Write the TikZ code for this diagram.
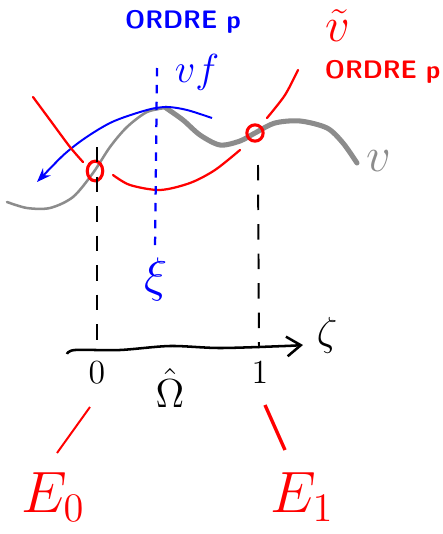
\documentclass[tikz,border=0pt]{standalone}
\usetikzlibrary{arrows.meta,shapes.geometric}
\definecolor{rouge}{RGB}{255,0,0}
\definecolor{bleu}{RGB}{0,0,255}
\definecolor{gris}{RGB}{140,140,140}

\begin{document}
\begin{tikzpicture}[
    x=0.0125cm, y=-0.0125cm,
    lbl/.style={inner sep=0pt},
    ordre/.style={inner sep=0pt, font=\small\sffamily\bfseries},
    tiret/.style={dash pattern=on 5.5pt off 5pt, line width=0.7pt},
    marque/.style={draw=rouge, line width=1.1pt, inner sep=0pt},
]
\useasboundingbox (0,0) rectangle (443,534);

% Texts at the top
\node[ordre, text=bleu] (ordreB) at (183,22) {ORDRE p};
\node[lbl, text=rouge, font=\LARGE] (vtilde) at (338,26) {$\tilde{v}$};
\node[ordre, text=rouge, anchor=east] (ordreR) at (441,72) {ORDRE p};
\node[lbl, text=bleu, font=\Large] (vf) at (197,72) {$v f$};
\node[lbl, text=gris, font=\LARGE] (v) at (379,161) {$v$};

% Exact function (gray)
\draw[gris, line width=0.9pt, line cap=round] plot[smooth] coordinates
    {(7,202) (27,208) (50,208) (73,197) (93,173) (110,147) (127,127) (147,112) (166,108)};
\draw[gris, line width=1.8pt, line cap=round] plot[smooth] coordinates
    {(166,108) (183,120) (200,135) (220,145) (240,141) (255,133) (275,123) (300,121) (327,128) (343,143) (357,163)};

% Blue approximation
\draw[bleu, line width=0.7pt, {Stealth[length=5pt]}-] plot[smooth] coordinates
    {(37,182) (73,147) (110,123) (147,110) (167,107) (187,110) (212,118)};

% Red approximation, three strokes
\draw[rouge, line width=0.8pt, line cap=round] plot[smooth] coordinates
    {(33,97) (50,120) (70,147) (83,162)};
\draw[rouge, line width=0.8pt, line cap=round] plot[smooth] coordinates
    {(113,175) (130,185) (160,190) (190,183) (215,170) (240,150)};
\draw[rouge, line width=0.8pt, line cap=round] plot[smooth] coordinates
    {(267,118) (285,95) (298,70)};

% Nodes where both agree
\node[marque, ellipse, minimum width=5.5pt, minimum height=7pt] (c0) at (95,171) {};
\node[marque, circle, minimum size=5.8pt] (c1) at (255,133) {};

% Vertical dashed lines
\coordinate (hautA) at (97,147);
\coordinate (basA) at (97,350);
\coordinate (hautB) at (258,165);
\coordinate (basB) at (259,348);
\draw[tiret] (hautA) -- (basA);
\draw[tiret] (hautB) -- (basB);

\coordinate (hautX) at (157,68);
\coordinate (basX) at (155,250);
\draw[bleu, dash pattern=on 3pt off 3pt, line width=0.8pt] (hautX) -- (basX);
\node[lbl, text=bleu, font=\LARGE] (xi) at (156,279) {$\xi$};

% Reference axis
\draw[line width=0.9pt, -{Straight Barb[length=5pt, width=7pt]}] plot[smooth] coordinates
    {(67,354) (75,350) (120,350) (170,346) (220,348) (285,346) (303,345)};
\node[lbl, font=\Large] (zeta) at (327,335) {$\zeta$};

\node[lbl, font=\large] (zero) at (97,373) {$0$};
\node[lbl, font=\large] (un) at (260,373) {$1$};
\node[lbl, font=\Large] (omega) at (170,388) {$\hat{\Omega}$};

% End points
\node[lbl, text=rouge, font=\fontsize{22}{26}\selectfont] (E0) at (53,497) {$E_0$};
\node[lbl, text=rouge, font=\fontsize{22}{26}\selectfont] (E1) at (302,497) {$E_1$};

\coordinate (pA) at (90,407);
\coordinate (qA) at (57,453);
\coordinate (pB) at (265,405);
\coordinate (qB) at (285,450);
\draw[rouge, line width=0.7pt] (pA) -- (qA);
\draw[rouge, line width=1.2pt] (pB) -- (qB);

\end{tikzpicture}
\end{document}
